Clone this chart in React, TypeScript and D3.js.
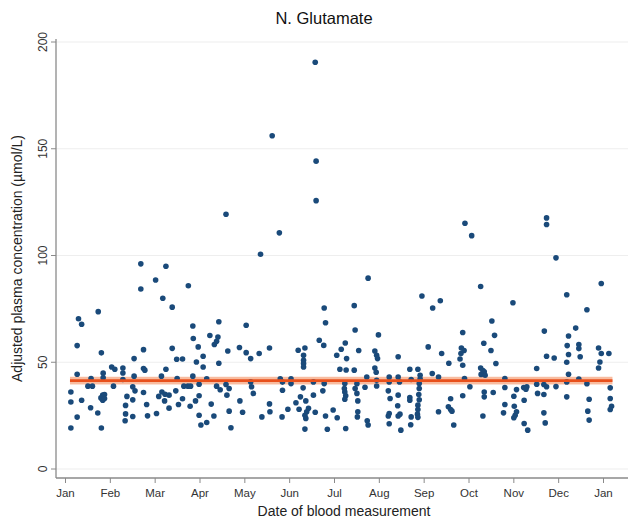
import React from "react";
import * as d3 from "d3";

const monthLabels = ["Jan","Feb","Mar","Apr","May","Jun","Jul","Aug","Sep","Oct","Nov","Dec","Jan"];
const yTicks = [0, 50, 100, 150, 200];

// x: months since 1 Jan (fractional), y: adjusted plasma glutamate (µmol/L)
const pointMonth = [
  1.68,1.68,0.29,0.36,0.73,0.26,0.80,1.74,1.53,1.74,1.77,1.03,1.10,1.28,1.28,0.84,0.26,0.57,0.84,1.53,
  1.28,0.50,0.60,1.07,1.50,1.55,0.12,1.74,0.83,0.79,1.37,0.36,0.12,0.83,1.50,1.81,1.34,0.56,0.72,1.34,
  0.26,1.50,1.83,1.33,0.12,0.80,0.87,0.87,
  2.24,2.01,2.74,2.17,2.38,2.84,3.42,4.03,2.85,3.22,3.40,3.37,3.32,2.96,2.38,3.62,3.88,4.03,2.48,2.61,
  3.07,2.92,3.42,3.07,2.24,2.14,2.84,2.49,3.15,2.98,2.64,2.73,2.79,3.37,3.58,3.65,3.45,2.46,2.15,2.22,
  2.31,2.08,3.60,2.98,2.21,2.61,2.90,3.89,2.52,3.25,2.78,2.31,3.65,3.95,2.03,2.98,3.31,3.15,3.02,3.69,
  3.58,
  4.77,4.35,5.77,5.80,5.66,5.76,4.55,5.19,5.34,4.32,4.13,6.05,5.31,5.31,5.31,5.31,4.79,5.03,4.13,5.53,
  5.77,4.84,5.03,4.15,5.30,4.84,5.74,4.19,5.53,5.24,4.55,5.14,5.36,4.96,5.21,5.42,4.56,5.38,5.57,5.97,
  5.34,4.38,4.83,5.36,5.80,6.06,5.34,5.84,5.57,4.61,5.59,5.59,6.12,
  6.75,7.95,8.19,6.44,6.46,6.98,6.24,6.15,6.54,8.09,6.90,6.94,6.96,7.42,6.27,6.26,6.44,6.90,6.93,7.68,
  7.86,8.18,6.72,7.22,7.42,7.91,7.71,7.91,6.94,7.45,7.22,6.23,7.89,6.50,6.68,6.94,6.22,6.46,7.20,6.23,
  7.89,6.50,6.25,7.88,7.42,6.23,7.24,7.68,6.52,7.68,7.89,7.86,7.41,7.86,6.52,7.22,7.46,7.85,6.51,7.20,
  7.42,7.71,7.86,6.73,6.75,7.22,7.70,6.25,7.48,
  9.06,8.91,9.26,9.98,8.36,9.51,8.86,9.57,9.33,8.83,8.89,9.49,8.39,8.82,8.80,8.55,8.86,9.60,9.26,9.31,
  9.34,9.27,9.36,8.32,8.90,9.80,9.02,9.80,10.06,10.22,10.27,10.29,9.34,9.54,9.34,8.86,10.00,8.59,10.23,9.80,
  8.54,10.01,8.59,8.62,8.32,9.77,10.06,10.03,9.31,10.00,8.66,10.23,10.31,
  10.73,10.73,10.94,11.95,11.18,11.63,11.38,10.68,11.22,11.19,11.45,11.45,11.89,11.95,12.12,11.22,11.48,10.73,10.90,11.18,
  11.92,11.89,10.51,11.22,11.45,10.51,10.67,10.73,10.94,11.18,11.63,12.15,10.53,10.67,11.18,12.15,11.68,12.18,12.15,11.65,
  10.67,11.68,10.70
];
const pointValue = [
  96.1,84.3,70.4,67.8,73.7,57.8,54.4,55.9,51.7,47.1,46.3,47.8,46.7,47.3,45.0,44.9,44.4,42.4,42.7,43.5,
  41.9,38.8,38.8,38.8,38.5,36.6,36.1,35.8,34.6,33.3,34.0,32.2,31.4,32.2,32.4,30.2,29.8,28.7,26.2,25.8,
  24.3,24.6,24.9,22.6,19.2,19.2,34.9,33.0,
  95.0,88.5,85.8,80.0,75.8,67.0,69.0,67.3,61.1,62.5,61.8,59.8,58.3,57.2,56.5,55.3,56.9,54.5,51.4,51.5,
  52.8,50.1,49.5,47.8,46.7,43.5,43.5,42.4,42.2,39.7,38.8,38.8,38.8,38.8,39.6,37.7,37.1,36.6,36.1,35.0,
  34.6,34.0,34.6,34.3,31.9,32.9,31.9,31.9,30.2,30.4,29.4,28.5,27.1,26.6,26.0,25.2,24.8,21.8,20.6,19.3,
  119.3,
  110.6,100.6,75.4,68.5,60.3,57.9,56.7,55.6,56.7,54.1,51.7,53.3,53.3,50.9,49.4,47.8,42.2,42.2,40.8,40.8,
  40.0,40.7,40.0,38.5,38.0,36.9,36.6,35.4,34.6,33.8,30.5,31.0,31.9,28.0,28.0,28.4,26.8,26.8,26.6,27.6,
  25.2,24.4,24.4,23.7,24.8,24.0,18.7,18.6,190.5,156.1,144.2,125.7,46.7,
  89.4,81.0,75.4,76.5,65.1,62.8,59.0,56.1,55.5,57.2,55.3,53.3,51.7,52.6,51.7,46.4,46.3,47.3,45.3,46.7,
  46.7,44.7,43.1,43.1,43.1,43.9,41.9,42.1,41.6,40.8,40.8,40.0,40.0,39.9,38.3,38.9,37.7,37.7,36.6,36.1,
  37.7,35.4,34.3,34.9,34.6,32.7,33.0,33.5,31.9,32.2,32.4,29.9,29.6,27.9,26.8,26.0,25.7,25.7,24.4,24.8,
  24.8,24.4,24.2,22.6,20.6,21.2,20.7,19.0,18.2,
  109.3,115.1,85.5,77.9,78.8,69.3,63.9,62.6,58.9,56.7,55.5,55.5,54.1,54.1,51.5,49.5,48.6,49.4,47.3,46.1,
  45.5,44.3,43.9,43.1,42.4,42.4,38.5,38.2,37.2,38.2,37.4,38.5,36.1,35.8,33.8,34.3,34.1,32.9,32.2,30.2,
  29.1,29.4,27.9,27.1,26.8,26.3,26.8,25.2,24.8,24.0,20.6,21.3,18.2,
  117.6,114.5,98.9,86.9,81.6,74.6,66.0,64.6,62.3,57.8,58.3,56.4,56.7,54.1,54.1,53.6,52.6,52.8,52.0,50.0,
  50.1,47.3,47.1,44.4,42.1,39.7,39.6,38.5,38.6,40.8,39.9,38.0,35.4,34.9,33.8,33.0,32.7,29.4,27.9,27.1,
  26.3,22.9,21.6
];

const fitLevel = [41.4];
const fitLower = [39.6];
const fitUpper = [43.2];
const fitRange = [0.1, 12.2];

const W = 637, H = 524;
const font = "'Liberation Sans', Arial, Helvetica, sans-serif";

export default function App() {
  const x = d3.scaleLinear().domain([0, 12]).range([65.5, 603.5]);
  const y = d3.scaleLinear().domain([0, 200]).range([469, 42]);
  const left = 56, right = 628, bottom = 478, top = 39;
  const points = pointMonth.map((m, i) => ({ m, v: pointValue[i] }));
  return (
    <svg width={W} height={H} style={{ position: "absolute", left: 0, top: 0, background: "#fff" }}
      fontFamily={font}>
      <rect x={0} y={0} width={W} height={H} fill="#fff" />
      {yTicks.map(t => (
        <line key={"g" + t} x1={left} x2={right} y1={y(t)} y2={y(t)} stroke="#eeeeee" strokeWidth={1.2} />
      ))}
      <rect x={x(fitRange[0])} width={x(fitRange[1]) - x(fitRange[0])}
        y={y(fitUpper[0])} height={y(fitLower[0]) - y(fitUpper[0])} fill="#f5a580" opacity={0.75} />
      {points.map((p, i) => (
        <circle key={i} cx={x(p.m)} cy={y(p.v)} r={2.8} fill="#1a4a7a" />
      ))}
      <line x1={x(fitRange[0])} x2={x(fitRange[1])} y1={y(fitLevel[0])} y2={y(fitLevel[0])}
        stroke="#e8501c" strokeWidth={2.6} />
      <line x1={left} x2={left} y1={top} y2={bottom} stroke="#8a8a8a" strokeWidth={1.3} />
      <line x1={left} x2={right} y1={bottom} y2={bottom} stroke="#8a8a8a" strokeWidth={1.3} />
      {yTicks.map(t => (
        <g key={"y" + t}>
          <line x1={left - 5} x2={left} y1={y(t)} y2={y(t)} stroke="#8a8a8a" strokeWidth={1} />
          <text transform={`translate(${left - 9},${y(t)}) rotate(-90)`} textAnchor="middle"
            fontSize={12} fill="#333">{t}</text>
        </g>
      ))}
      {monthLabels.map((lab, i) => (
        <g key={"x" + i}>
          <line x1={x(i)} x2={x(i)} y1={bottom} y2={bottom + 5} stroke="#8a8a8a" strokeWidth={1} />
          <text x={x(i)} y={bottom + 19} textAnchor="middle" fontSize={11.5} fill="#333">{lab}</text>
        </g>
      ))}
      <text x={(left + right) / 2 + 2} y={516} textAnchor="middle" fontSize={14} fill="#222">
        Date of blood measurement
      </text>
      <text transform={`translate(22,${(top + bottom) / 2}) rotate(-90)`} textAnchor="middle"
        fontSize={14} fill="#222">Adjusted plasma concentration (µmol/L)</text>
      <text x={324} y={24} textAnchor="middle" fontSize={16.5} fill="#111">N. Glutamate</text>
    </svg>
  );
}
